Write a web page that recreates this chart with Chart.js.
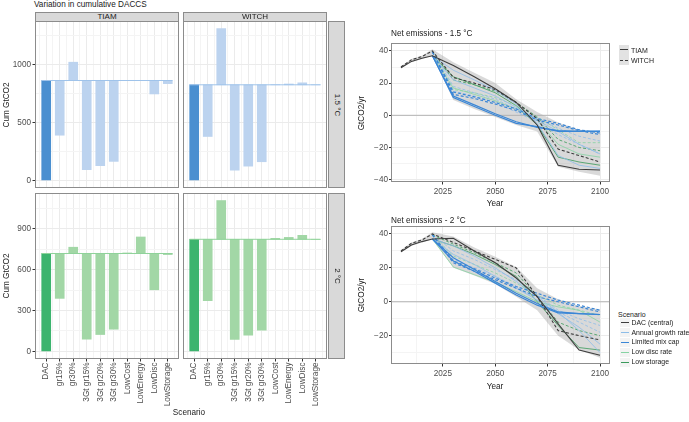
<!DOCTYPE html>
<html><head><meta charset="utf-8">
<script src="https://cdn.jsdelivr.net/npm/chart.js@4/dist/chart.umd.min.js"></script>
<style>
body{margin:0;width:689px;height:422px;position:relative;background:#fff;overflow:hidden;font-family:"Liberation Sans",Arial,Helvetica,sans-serif;color:#1a1a1a}
canvas{position:absolute}
.t{position:absolute;white-space:nowrap;line-height:1}
.strip{position:absolute;background:#d9d9d9;border:1px solid #8c8c8c;box-sizing:border-box}
.kbg{position:absolute;width:10px;height:10px}
.kl{position:absolute;width:8px;height:0}
</style></head><body>
<script>
// ---------- bar panels: cumulative DACCS (GtCO2) ----------
const scenarios = ['DAC','gr15%','gr30%','3Gt gr15%','3Gt gr20%','3Gt gr30%','LowCost','LowEnergy','LowDisc','LowStorage'];
const tiam15  = [862, 390, 1020, 92, 127, 164, 862, 862, 746, 835];
const witch15 = [825, 379, 1310, 89, 123, 161, 826, 832, 842, 825];
const tiam20  = [718, 389, 764, 90, 124, 163, 722, 839, 452, 710];
const witch20 = [822, 372, 1106, 88, 120, 156, 829, 836, 851, 822];
const yTicks15 = [0, 500, 1000];
const yTicks20 = [0, 300, 600, 900];

// ---------- net emissions lines (GtCO2/yr) ----------
const n = null;
const years = [2005, 2010, 2015, 2020, 2030, 2040, 2050, 2060, 2070, 2080, 2090, 2100];
const xTickYears = [2025, 2050, 2075, 2100];
// 1.5 °C
const t15_dac  = [29.5, 33.5, 35.5, 37, 31, 24, 16.5, 8, -6, -31, -33.5, -34];
const w15_dac  = [30, 34.5, 36.5, 40, 23.5, 20, 16, 8, -2, -21, -25, -29];
const t15_gr15 = [n, n, n, 37, 22, 17, 12, 5, -3, -10, -18, -24];
const t15_gr30 = [n, n, n, 37, 28, 22, 15.5, 7, -5, -25, -31, -33];
const w15_gr15 = [n, n, n, 39.5, 18, 14, 10, 4, -2, -8, -13, -16];
const w15_gr30 = [n, n, n, 39.5, 15, 12, 8, 2, -4, -12, -18, -24];
const t15_3g15 = [n, n, n, 37, 11, 5.5, 0, -5, -7, -10, -10, -10];
const t15_3g30 = [n, n, n, 37, 12, 6.5, 1, -4, -7.5, -9.5, -10, -9.8];
const w15_3g15 = [n, n, n, 39.5, 13, 10.5, 7, 3, -3, -6, -9.5, -12];
const w15_3g30 = [n, n, n, 39.5, 14.5, 11.5, 8, 4, -2, -5, -9, -11];
const t15_disc = [n, n, n, 37, 17, 13, 9, 4, -3, -18, -24, -26];
const w15_disc = [n, n, n, 39.5, 16, 14, 11, 6, -1, -9, -17, -17];
const t15_stor = [n, n, n, 37, 24, 19, 14, 6, -6, -26, -29, -31];
const w15_stor = [n, n, n, 39.5, 22, 19, 15, 8, -1, -15, -20, -22];
const rib15_lo = [29, 33, 35, 37, 9.5, 4, -1, -6, -10, -32, -35, -37.5];
const rib15_hi = [30.5, 35, 37, 41, 33, 26.5, 20, 10, 2, -4.5, -9, -10];
// 2 °C
const t20_dac  = [29.5, 33.5, 35.5, 37, 37.5, 30, 23, 14, 3, -13, -28.5, -31.5];
const w20_dac  = [30, 34.5, 36.5, 40, 35, 30, 25, 20, 3, -17, -20, -22.5];
const t20_gr15 = [n, n, n, 37, 28, 22, 15, 8, 1, -7, -15, -25];
const t20_gr30 = [n, n, n, 37, 33, 27, 20, 12, 3, -6, -17, -30];
const w20_gr15 = [n, n, n, 39.5, 25, 20, 15, 9, 1, -6, -12, -18];
const w20_gr30 = [n, n, n, 39.5, 30, 25, 19, 13, 4, -5, -10, -14];
const t20_3g15 = [n, n, n, 37, 26, 19, 12, 5, -1, -6, -7, -7.5];
const t20_3g30 = [n, n, n, 37, 24, 18, 11, 4, -2, -6.5, -7, -7.5];
const w20_3g15 = [n, n, n, 39.5, 24, 19.5, 14, 9, 5, 1, -2, -5];
const w20_3g30 = [n, n, n, 39.5, 23, 18, 13, 8, 3, 0, -3, -6];
const t20_disc = [n, n, n, 37, 20.5, 16, 11.5, 6, 0, -3, -5, -12];
const w20_disc = [n, n, n, 39.5, 27, 22, 17, 11, 4, -2, -5, -8];
const t20_stor = [n, n, n, 37, 33, 28, 22, 15, 0, -14, -27, -28.5];
const w20_stor = [n, n, n, 39.5, 34, 29, 23, 17, 3, -12, -17, -20];
const rib20_lo = [29, 33, 35, 37, 20, 15.5, 10.5, 3, -5, -20, -28.5, -33];
const rib20_hi = [30.5, 35, 37, 41, 38.5, 32, 26.5, 20.5, 8, 1.5, -2.5, -4.5];

const scenNames = ['DAC (central)', 'Annual growth rate', 'Limited mix cap', 'Low disc rate', 'Low storage'];
const scenCols  = ['#3d3d3d', '#8dbde8', '#3a86d6', '#86d3a3', '#3a9a5b'];

// ---------- setup ----------
Chart.defaults.font.family = '"Liberation Sans", Arial, Helvetica, sans-serif';
Chart.defaults.font.size = 8.2;
Chart.defaults.color = '#4d4d4d';
Chart.defaults.animation = false;
Chart.defaults.events = [];
Chart.defaults.plugins.legend.display = false;
Chart.defaults.plugins.tooltip.enabled = false;

const frame = {id:'frame', afterDraw(chart){
  const {ctx, chartArea:a} = chart; ctx.save();
  ctx.strokeStyle = '#8c8c8c'; ctx.lineWidth = 1;
  ctx.strokeRect(Math.round(a.left)+0.5, Math.round(a.top)+0.5, Math.round(a.right-a.left)-1, Math.round(a.bottom-a.top)-1);
  ctx.restore();
}};
function zero(s){ s.paddingLeft = s.paddingRight = s.paddingTop = s.paddingBottom = 0; }
function place(area, pad, config){
  const [L, T, W, H] = area;
  const cw = W + pad.l + pad.r, ch = H + pad.t + pad.b;
  const c = document.createElement('canvas');
  c.width = cw; c.height = ch;
  Object.assign(c.style, {left:(L-pad.l)+'px', top:(T-pad.t)+'px', width:cw+'px', height:ch+'px'});
  document.body.appendChild(c);
  const o = config.options;
  o.responsive = false; o.maintainAspectRatio = false;
  o.layout = {padding:{left:0, top:pad.t, right:pad.r, bottom:0}};
  o.scales.x.afterFit = s => { s.height = pad.b; zero(s); };
  o.scales.y.afterFit = s => { s.width = pad.l; zero(s); };
  config.plugins = [frame];
  return new Chart(c, config);
}
function txt(text, x, y, o={}){
  const d = document.createElement('div'); d.className = 't'; d.textContent = text;
  d.style.fontSize = (o.size || 8.2) + 'px'; d.style.color = o.color || '#1a1a1a';
  d.style.left = x + 'px'; d.style.top = y + 'px';
  const a = o.anchor || 'c';
  const tx = a === 'l' ? '0' : a === 'r' ? '-100%' : '-50%';
  d.style.transform = `translate(${tx},-50%)` + (o.rot ? ` rotate(${o.rot}deg)` : '');
  document.body.appendChild(d); return d;
}
function box(cls, x, y, w, h, style){
  const d = document.createElement('div'); d.className = cls;
  Object.assign(d.style, {left:x+'px', top:y+'px', width:w+'px', height:h+'px'}, style||{});
  document.body.appendChild(d); return d;
}

// ---------- bar charts (facet rows share the y scale) ----------
function barChart(area, pad, vals, rowVals, yTicks, cols, showX, showY){
  const base = vals[0];
  const nC = vals.length;
  const yMaxData = Math.max(...rowVals);
  const yMin = -0.05 * yMaxData, yMax = 1.05 * yMaxData;
  const step = yTicks[1] - yTicks[0];
  const yGrid = []; for (let k = 0; k * step / 2 <= yMax; k++) yGrid.push(k * step / 2);
  const xGrid = []; for (let k = 1; k <= 2 * nC + 1; k++) xGrid.push(k / 2);
  const isMajX = v => Number.isInteger(v);
  const isMajY = v => yTicks.includes(v);
  return place(area, pad, {
    type:'bar',
    data:{datasets:[
      {type:'bar', data: vals.map((v,i) => ({x:i+1, y: i === 0 ? [0, v] : [base, v]})),
       backgroundColor: vals.map((v,i) => i === 0 ? cols[0] : cols[1]), borderWidth:0, barThickness:9, order:2},
      {type:'line', data:[{x:1-0.35, y:base}, {x:nC+0.35, y:base}], borderColor: cols[2], borderWidth:1,
       pointRadius:0, fill:false, order:1}
    ]},
    options:{
      scales:{
        x:{type:'linear', min:0.17, max:nC+0.83, bounds:'data', offset:false,
           grid:{offset:false, color: c => isMajX(c.tick.value) ? '#ebebeb' : '#f4f4f4', drawTicks: showX,
                 tickLength:2.5, tickColor: c => isMajX(c.tick.value) ? '#333' : 'rgba(0,0,0,0)'},
           border:{display:false},
           afterBuildTicks: s => { s.ticks = xGrid.map(v => ({value:v})); },
           ticks:{display: showX, autoSkip:false, minRotation:90, maxRotation:90, padding:1,
                  callback: v => isMajX(v) ? scenarios[v-1] : ''}},
        y:{type:'linear', min:yMin, max:yMax, bounds:'data',
           grid:{color: c => isMajY(c.tick.value) ? '#ebebeb' : '#f4f4f4', drawTicks: showY,
                 tickLength:2.5, tickColor: c => isMajY(c.tick.value) ? '#333' : 'rgba(0,0,0,0)'},
           border:{display:false},
           afterBuildTicks: s => { s.ticks = yGrid.map(v => ({value:v})); },
           ticks:{display: showY, autoSkip:false, padding:1.5, callback: v => isMajY(v) ? String(v) : ''}}
      }
    }
  });
}
const blue = ['#4a8fd0', '#bcd3ef', '#9fc3ea'];
const green = ['#3cb46e', '#a2d7a6', '#8fd39a'];
const row15 = tiam15.concat(witch15), row20 = tiam20.concat(witch20);
barChart([35, 21, 144, 167], {l:35, t:2, r:2, b:2}, tiam15, row15, yTicks15, blue, false, true);
barChart([183, 21, 144, 167], {l:2, t:2, r:2, b:2}, witch15, row15, yTicks15, blue, false, false);
barChart([35, 193, 144, 166], {l:35, t:2, r:2, b:60}, tiam20, row20, yTicks20, green, true, true);
barChart([183, 193, 144, 166], {l:2, t:2, r:2, b:60}, witch20, row20, yTicks20, green, true, false);

// ---------- line charts ----------
function lineChart(area, list, ribLo, ribHi){
  const lo = Math.min(...ribLo), hi = Math.max(...ribHi);
  const yMin = lo - 0.05 * (hi - lo), yMax = hi + 0.05 * (hi - lo);
  const xMin = years[0] - 0.05 * (years[years.length-1] - years[0]);
  const xMax = years[years.length-1] + 0.05 * (years[years.length-1] - years[0]);
  const xGrid = []; for (let v = xTickYears[0] - 12.5; v <= xMax; v += 12.5) xGrid.push(v);
  const yGrid = []; for (let v = Math.ceil(yMin/10)*10; v <= yMax; v += 10) yGrid.push(v);
  const pts = arr => years.map((y,i) => ({x:y, y:arr[i]}));
  const ds = [
    {data: pts(ribHi), fill:'+1', backgroundColor:'rgba(160,160,160,0.4)', borderWidth:0, pointRadius:0, order:100},
    {data: pts(ribLo), fill:false, borderWidth:0, pointRadius:0, order:99},
    {data: [{x:xMin, y:0}, {x:xMax, y:0}], borderColor:'#b3b3b3', borderWidth:1, pointRadius:0, fill:false, order:50}
  ];
  list.forEach(([arr, sc, model]) => {
    ds.push({data: pts(arr), borderColor: scenCols[sc], fill:false, pointRadius:0, tension:0,
      borderWidth: sc === 2 ? 1.2 : (sc === 0 ? 1.1 : 0.8),
      borderDash: model === 'WITCH' ? [3, 2] : [], order: sc === 0 ? 0 : (sc === 2 ? 1 : 2)});
  });
  return place(area, {l:28, t:2, r:2, b:20}, {
    type:'line', data:{datasets: ds},
    options:{
      scales:{
        x:{type:'linear', min:xMin, max:xMax, bounds:'data',
           grid:{color: c => xTickYears.includes(c.tick.value) ? '#ebebeb' : '#f4f4f4', tickLength:2.5,
                 tickColor: c => xTickYears.includes(c.tick.value) ? '#333' : 'rgba(0,0,0,0)'},
           border:{display:false},
           afterBuildTicks: s => { s.ticks = xGrid.map(v => ({value:v})); },
           ticks:{autoSkip:false, maxRotation:0, padding:2.5, callback: v => xTickYears.includes(v) ? String(v) : ''}},
        y:{type:'linear', min:yMin, max:yMax, bounds:'data',
           grid:{color: c => c.tick.value % 20 === 0 ? '#ebebeb' : '#f4f4f4', tickLength:2,
                 tickColor: c => c.tick.value % 20 === 0 ? '#333' : 'rgba(0,0,0,0)'},
           border:{display:false},
           afterBuildTicks: s => { s.ticks = yGrid.map(v => ({value:v})); },
           ticks:{autoSkip:false, padding:1, callback: v => v % 20 === 0 ? String(v).replace('-', '\u2212') : ''}}
      }
    }
  });
}
lineChart([391, 43, 219, 139], [
  [t15_gr15,1,'TIAM'],[t15_gr30,1,'TIAM'],[w15_gr15,1,'WITCH'],[w15_gr30,1,'WITCH'],
  [t15_disc,3,'TIAM'],[w15_disc,3,'WITCH'],[t15_stor,4,'TIAM'],[w15_stor,4,'WITCH'],
  [t15_3g15,2,'TIAM'],[t15_3g30,2,'TIAM'],[w15_3g15,2,'WITCH'],[w15_3g30,2,'WITCH'],
  [t15_dac,0,'TIAM'],[w15_dac,0,'WITCH']], rib15_lo, rib15_hi);
lineChart([391, 226, 219, 138], [
  [t20_gr15,1,'TIAM'],[t20_gr30,1,'TIAM'],[w20_gr15,1,'WITCH'],[w20_gr30,1,'WITCH'],
  [t20_disc,3,'TIAM'],[w20_disc,3,'WITCH'],[t20_stor,4,'TIAM'],[w20_stor,4,'WITCH'],
  [t20_3g15,2,'TIAM'],[t20_3g30,2,'TIAM'],[w20_3g15,2,'WITCH'],[w20_3g30,2,'WITCH'],
  [t20_dac,0,'TIAM'],[w20_dac,0,'WITCH']], rib20_lo, rib20_hi);

// ---------- text, strips, legends ----------
txt('Variation in cumulative DACCS', 34, 4.5, {anchor:'l'});
box('strip', 35, 12, 144, 10); box('strip', 183, 12, 144, 10);
txt('TIAM', 107, 17, {size:8}); txt('WITCH', 255, 17, {size:8});
box('strip', 328, 21, 17, 167); box('strip', 328, 193, 17, 166);
txt('1.5 °C', 336.5, 104.5, {size:8, rot:90}); txt('2 °C', 336.5, 276, {size:8, rot:90});
txt('Cum GtCO2', 7, 104.5, {rot:-90}); txt('Cum GtCO2', 7, 276, {rot:-90});
txt('Scenario', 189, 413);

txt('Net emissions - 1.5 °C', 391, 34, {anchor:'l'});
txt('Net emissions - 2 °C', 391, 220.5, {anchor:'l'});
txt('GtCO2/yr', 362, 112.5, {rot:-90}); txt('GtCO2/yr', 362, 295, {rot:-90});
txt('Year', 495, 204); txt('Year', 495, 387);

// legend: model
[['TIAM','solid'],['WITCH','dashed']].forEach(([m, st], i) => {
  const cy = 49.5 + i * 10.5;
  box('kbg', 619, cy - 5, 10, 10, {background:'#e2e2e2'});
  box('kl', 620, cy - 0.5, 8, 0, {borderTop:`1px ${st} #3d3d3d`});
  txt(m, 631, cy, {size:7, anchor:'l'});
});
// legend: scenario
txt('Scenario', 618, 314, {size:7, anchor:'l'});
scenNames.forEach((s, i) => {
  const cy = 322.7 + i * 9.85;
  box('kbg', 620, cy - 4.5, 10, 9, {background:'#f3f3f3'});
  box('kl', 621, cy - 0.5, 8, 0, {borderTop:`1px solid ${scenCols[i]}`});
  txt(s, 631.5, cy, {size:6.9, anchor:'l'});
});
</script>
</body></html>
